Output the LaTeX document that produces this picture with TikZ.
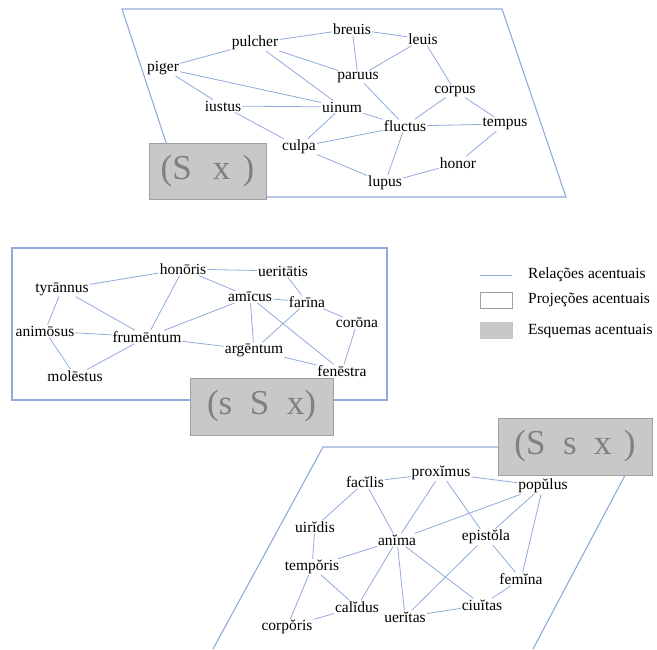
\documentclass[tikz,border=0pt]{standalone}
\usepackage{fontspec}
\setmainfont{Liberation Serif}
\definecolor{relblue}{RGB}{143,170,220}
\definecolor{boxgray}{RGB}{200,200,200}
\definecolor{boxline}{RGB}{160,160,160}
\definecolor{boxtext}{RGB}{128,128,128}
\tikzset{
  w/.style={inner sep=1pt, font=\fontsize{15.5}{18}\selectfont},
  rel/.style={draw=relblue, line width=0.8pt},
  proj/.style={draw=relblue, line width=1.1pt},
  esq/.style={draw=boxline, fill=boxgray, line width=1pt, text=boxtext,
    font=\fontsize{35}{40}\selectfont, inner sep=0pt},
}
\begin{document}
\begin{tikzpicture}[x=1pt, y=-1pt]
\useasboundingbox (0,0) rectangle (657,649);

% projections
\draw[proj](184,197)--(122,9)--(502,9)--(566,197)--cycle;
\draw[proj](12,248) rectangle (387,400);
\draw[proj](213,649)--(323,447)--(640,447)--(533,649);

% schemas
\node[esq, minimum width=117pt, minimum height=56pt](Sx) at (207.5,171){(S\hspace{.6em}x\hspace{.35em})};
\node[esq, minimum width=143pt, minimum height=57pt](sSx) at (261.5,406.5){(s\hspace{.5em}S\hspace{.5em}x)};
\node[esq, minimum width=154pt, minimum height=57pt](Ssx) at (575,446.5){(S\hspace{.5em}s\hspace{.5em}x\hspace{.35em})};

% (S x)
\node[w](breuis) at (352,29){breuis};
\node[w](leuis) at (423,39){leuis};
\node[w](pulcher) at (255,43){pulcher};
\node[w](piger) at (163,68){piger};
\node[w](paruus) at (358,77){paruus};
\node[w](corpus) at (455,91){corpus};
\node[w](iustus) at (223,106){iustus};
\node[w](uinum) at (342,107){uinum};
\node[w](fluctus) at (405,126){fluctus};
\node[w](tempus) at (505,124){tempus};
\node[w](culpa) at (299,147){culpa};
\node[w](honor) at (458,163){honor};
\node[w](lupus) at (385,183){lupus};

\draw[rel](pulcher)--(breuis); \draw[rel](breuis)--(leuis); \draw[rel](breuis)--(paruus);
\draw[rel](leuis)--(paruus); \draw[rel](leuis)--(corpus);
\draw[rel](pulcher)--(piger); \draw[rel](pulcher)--(paruus); \draw[rel](pulcher)--(uinum);
\draw[rel](piger)--(uinum); \draw[rel](piger)--(iustus); \draw[rel](iustus)--(culpa);
\draw[rel](iustus)--(uinum); \draw[rel](uinum)--(fluctus); \draw[rel](uinum)--(culpa);
\draw[rel](paruus)--(fluctus); \draw[rel](corpus)--(fluctus); \draw[rel](corpus)--(tempus);
\draw[rel](fluctus)--(tempus); \draw[rel](culpa)--(fluctus); \draw[rel](culpa)--(lupus);
\draw[rel](fluctus)--(lupus); \draw[rel](lupus)--(honor); \draw[rel](honor)--(tempus);

% (s S x)
\node[w](honoris) at (183,269){honōris};
\node[w](ueritatis) at (283,271){ueritātis};
\node[w](tyrannus) at (62,289){tyrānnus};
\node[w](amicus) at (250,297){amīcus};
\node[w](farina) at (307,302){farīna};
\node[w](corona) at (357,323){corōna};
\node[w](animosus) at (45,331){animōsus};
\node[w](frumentum) at (147,337){frumēntum};
\node[w](argentum) at (254,350){argēntum};
\node[w](fenestra) at (342,371){fenēstra};
\node[w](molestus) at (75,376){molēstus};

\draw[rel](tyrannus)--(honoris); \draw[rel](honoris)--(ueritatis); \draw[rel](honoris)--(amicus);
\draw[rel](honoris)--(frumentum); \draw[rel](ueritatis)--(farina); \draw[rel](amicus)--(farina);
\draw[rel](farina)--(corona); \draw[rel](farina)--(argentum); \draw[rel](amicus)--(frumentum);
\draw[rel](amicus)--(argentum); \draw[rel](amicus)--(fenestra); \draw[rel](corona)--(fenestra);
\draw[rel](argentum)--(fenestra); \draw[rel](frumentum)--(argentum); \draw[rel](tyrannus)--(frumentum);
\draw[rel](tyrannus)--(animosus); \draw[rel](animosus)--(frumentum); \draw[rel](animosus)--(molestus);
\draw[rel](molestus)--(frumentum);

% (S s x)
\node[w](proximus) at (441,473){proxĭmus};
\node[w](facilis) at (365,482){facĭlis};
\node[w](populus) at (543,486){popŭlus};
\node[w](uiridis) at (315,527){uirĭdis};
\node[w](anima) at (397,540){anĭma};
\node[w](epistola) at (486,537){epistŏla};
\node[w](temporis) at (312,567){tempŏris};
\node[w](femina) at (521,579){femĭna};
\node[w](calidus) at (357,607){calĭdus};
\node[w](ciuitas) at (482,605){ciuĭtas};
\node[w](ueritas) at (405,617){uerĭtas};
\node[w](corporis) at (287,627){corpŏris};

\draw[rel](facilis)--(proximus); \draw[rel](proximus)--(populus); \draw[rel](facilis)--(uiridis);
\draw[rel](facilis)--(anima); \draw[rel](proximus)--(anima); \draw[rel](proximus)--(epistola);
\draw[rel](populus)--(anima); \draw[rel](populus)--(epistola); \draw[rel](populus)--(femina);
\draw[rel](anima)--(temporis); \draw[rel](anima)--(calidus); \draw[rel](anima)--(ueritas);
\draw[rel](anima)--(ciuitas); \draw[rel](epistola)--(ueritas); \draw[rel](epistola)--(femina);
\draw[rel](femina)--(ciuitas); \draw[rel](ciuitas)--(ueritas); \draw[rel](uiridis)--(temporis);
\draw[rel](temporis)--(corporis); \draw[rel](temporis)--(calidus); \draw[rel](calidus)--(corporis);

% legend
\coordinate(relA) at (480,275);
\coordinate(relB) at (512,275);
\draw[rel](relA)--(relB);
\draw[draw=boxline, line width=0.8pt](480,292) rectangle (512,308);
\draw[draw=boxline!60, fill=boxgray, line width=0.8pt](480,322) rectangle (512,338);
\node[w, anchor=west](relTxt) at (527,275){Relações acentuais};
\node[w, anchor=west](projTxt) at (527,300){Projeções acentuais};
\node[w, anchor=west](esqTxt) at (527,331){Esquemas acentuais};

\end{tikzpicture}
\end{document}
